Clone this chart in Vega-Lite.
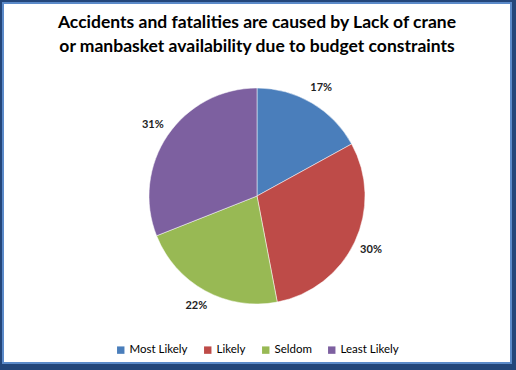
{
  "$schema": "https://vega.github.io/schema/vega-lite/v6.json",
  "autosize": {"type": "fit", "contains": "padding"},
  "width": 516,
  "height": 370,
  "padding": {"left": 3, "top": 3, "right": 5, "bottom": 7},
  "background": "#23467A",
  "view": {"fill": "#ffffff", "stroke": "#5B8AC9", "strokeWidth": 2},
  "title": {
    "text": ["Accidents and fatalities are caused by Lack of crane", "or manbasket availability due to budget constraints"],
    "font": "Lato",
    "fontSize": 17.5,
    "fontWeight": "bold",
    "color": "#000000",
    "lineHeight": 24,
    "anchor": "middle",
    "offset": -52
  },
  "data": {
    "values": [
      {"category": "Most Likely", "share": 0.17, "rank": 1},
      {"category": "Likely", "share": 0.30, "rank": 2},
      {"category": "Seldom", "share": 0.22, "rank": 3},
      {"category": "Least Likely", "share": 0.31, "rank": 4}
    ]
  },
  "encoding": {
    "theta": {"field": "share", "type": "quantitative", "stack": true},
    "order": {"field": "rank", "type": "quantitative"},
    "color": {
      "field": "category",
      "type": "nominal",
      "scale": {
        "domain": ["Most Likely", "Likely", "Seldom", "Least Likely"],
        "range": ["#4A7EBB", "#BE4B48", "#98B954", "#7D60A0"]
      },
      "legend": {
        "title": null,
        "orient": "bottom",
        "direction": "horizontal",
        "offset": -19,
        "symbolType": "square",
        "symbolSize": 55,
        "symbolStrokeWidth": 0,
        "labelFont": "Lato",
        "labelFontSize": 11.5,
        "labelColor": "#000000",
        "columnPadding": 14,
        "labelOffset": 3
      }
    }
  },
  "layer": [
    {
      "mark": {"type": "arc", "outerRadius": 108, "stroke": "#ffffff", "strokeWidth": 0.5, "yOffset": 13}
    },
    {
      "mark": {"type": "text", "radius": 126, "font": "Lato", "fontSize": 11, "fontWeight": "bold", "fill": "#222222", "yOffset": 13},
      "encoding": {
        "text": {"field": "share", "type": "quantitative", "format": ".0%"},
        "color": {"value": "#222222"}
      }
    }
  ],
  "config": {
    "view": {"fill": "#ffffff", "stroke": "#5B8AC9", "strokeWidth": 2},
    "legend": {"layout": {"bottom": {"anchor": "middle"}}}
  }
}
